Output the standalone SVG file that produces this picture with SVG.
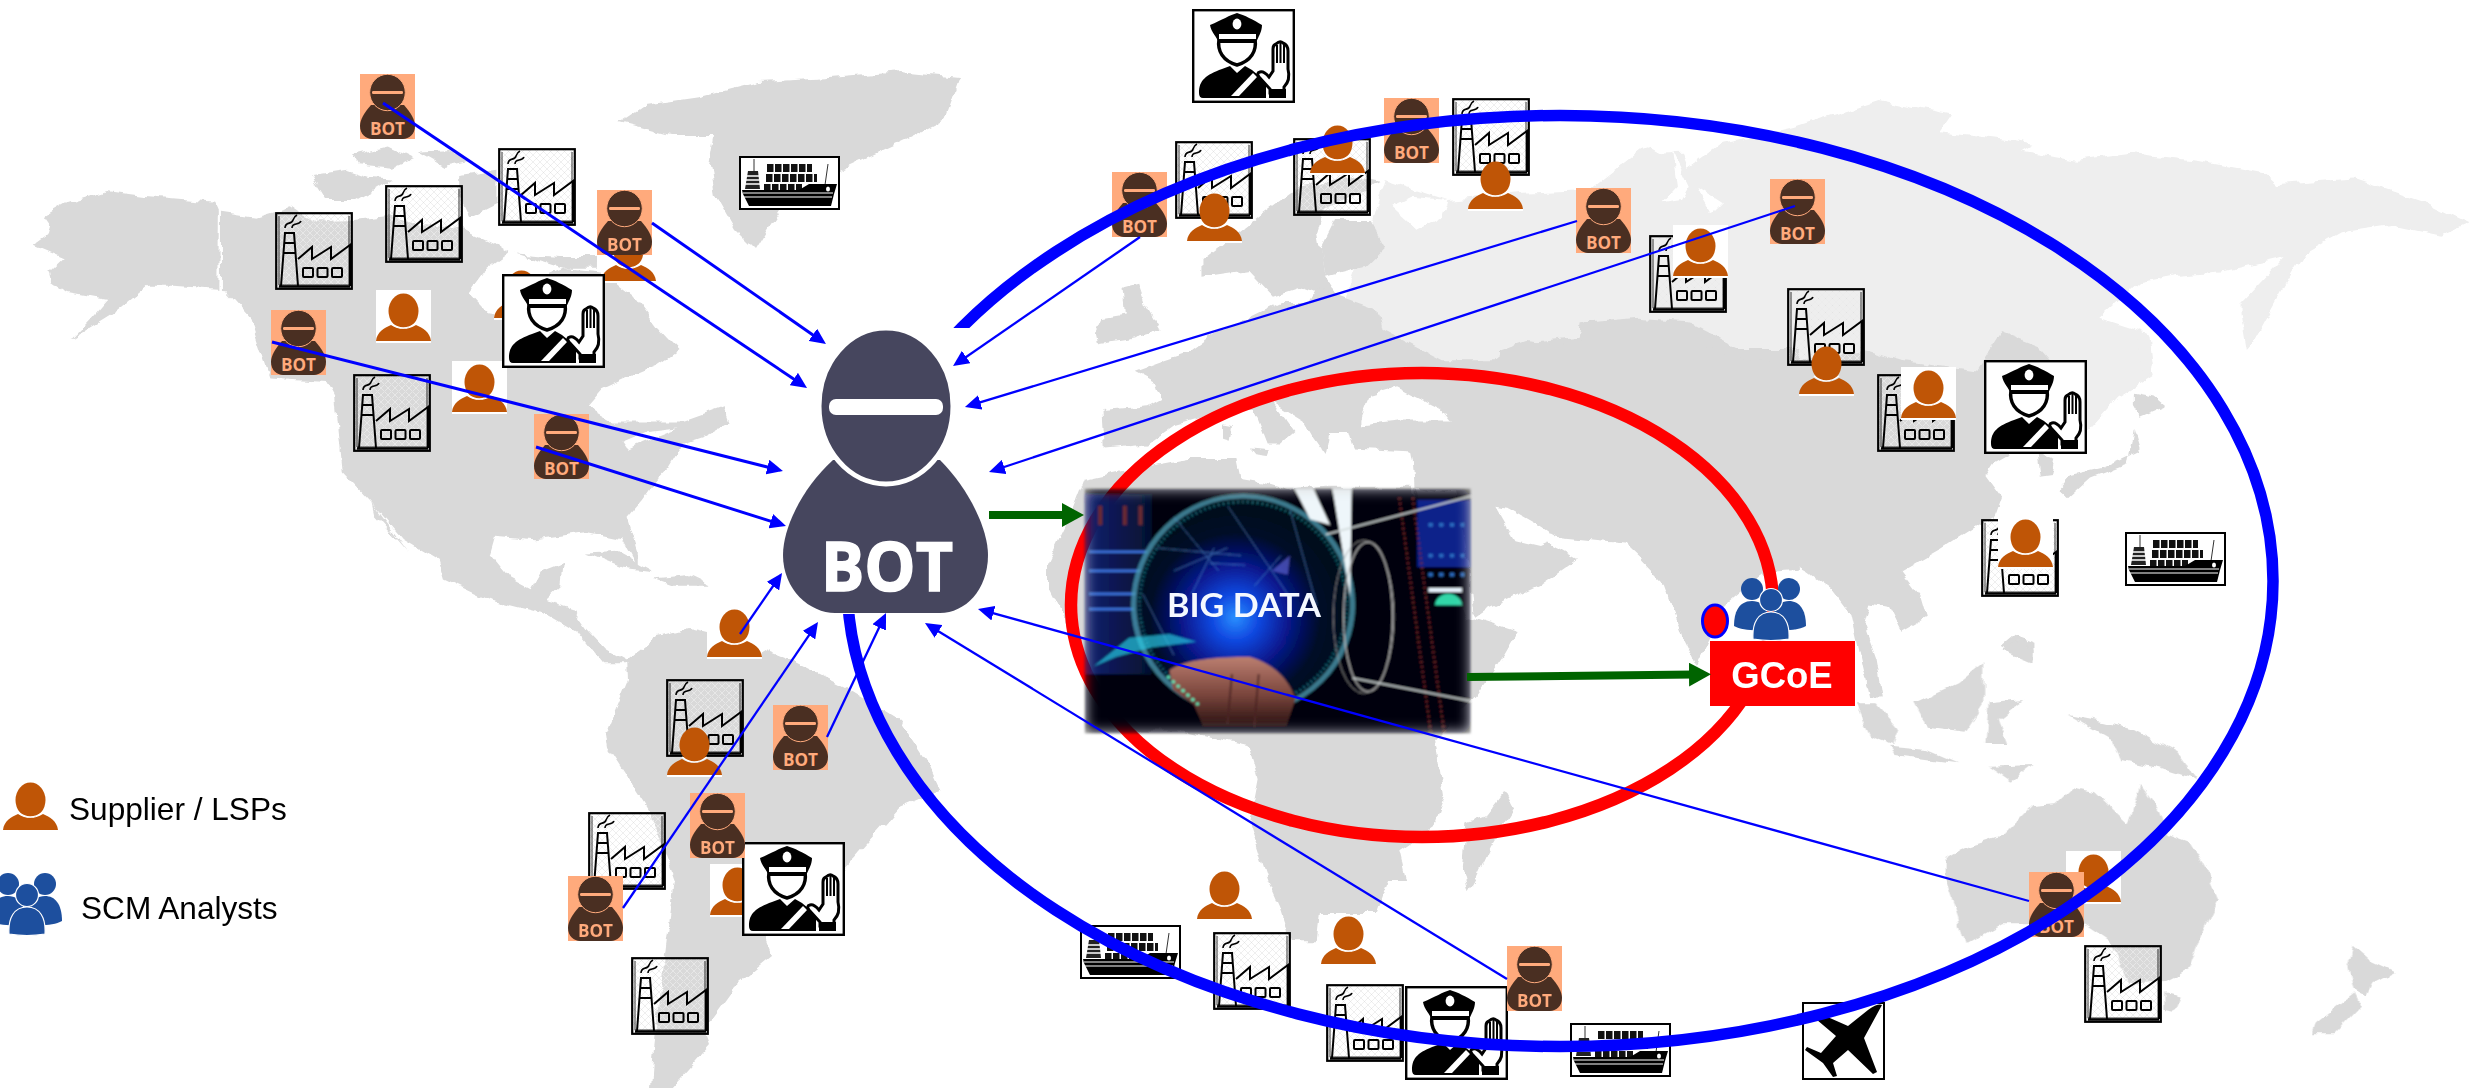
<svg xmlns="http://www.w3.org/2000/svg" width="2484" height="1088" viewBox="0 0 2484 1088">
<style>
.land{fill:#d9d9d9}.light{fill:#eeeeee}.sea{fill:#fff}
.thin{stroke:#0000ff;stroke-width:2.3;fill:none;marker-end:url(#ah)}
.thick{stroke:#0000ff;stroke-width:3;fill:none;marker-end:url(#ah)}
.green{stroke:#006400;stroke-width:8;fill:none;marker-end:url(#gh)}
.lbl{font-family:"Liberation Sans",Arial,sans-serif;font-size:31.6px;fill:#000}
.botsm{font-family:"Open Sans","Noto Sans",sans-serif;font-weight:700;font-size:17px;fill:#ffaa7c}
</style>
<defs>
<marker id="ah" markerUnits="userSpaceOnUse" markerWidth="16" markerHeight="15" refX="8" refY="7.5" orient="auto"><path d="M0,0L16,7.5L0,15Z" fill="#0000ff"/></marker>
<marker id="gh" markerUnits="userSpaceOnUse" markerWidth="22" markerHeight="24" refX="5" refY="12" orient="auto"><path d="M0,0L22,12L0,24Z" fill="#006400"/></marker>
<pattern id="hatch" width="7" height="7" patternUnits="userSpaceOnUse"><path d="M0,0L7,7M7,0L0,7" stroke="#fff" stroke-width=".7"/><path d="M0,0L7,7M7,0L0,7" stroke="#c8c8c8" stroke-width=".3"/></pattern>
<radialGradient id="glow" cx=".47" cy=".56" r=".55"><stop offset="0" stop-color="#2a90ff"/><stop offset=".2" stop-color="#1048e0"/><stop offset=".45" stop-color="#07188c"/><stop offset=".72" stop-color="#030828"/><stop offset="1" stop-color="#030818"/></radialGradient>
<linearGradient id="leftp" x1="0" x2="1"><stop offset="0" stop-color="#0b1f70"/><stop offset="1" stop-color="#06102f"/></linearGradient>
<linearGradient id="handg" x1="0" x2="0" y1="0" y2="1"><stop offset="0" stop-color="#bb7f70"/><stop offset=".55" stop-color="#7a453c"/><stop offset="1" stop-color="#2a1212"/></linearGradient>
<filter id="feather" x="-6%" y="-8%" width="112%" height="116%"><feGaussianBlur in="SourceGraphic" stdDeviation="1.1" result="s"/><feGaussianBlur in="SourceAlpha" stdDeviation="7" result="b"/><feComposite in="s" in2="b" operator="in"/></filter>
<filter id="rough" filterUnits="userSpaceOnUse" x="0" y="0" width="2484" height="1088"><feTurbulence type="fractalNoise" baseFrequency=".06" numOctaves="3" seed="7" result="n"/><feDisplacementMap in="SourceGraphic" in2="n" scale="9" xChannelSelector="R" yChannelSelector="G"/></filter>
<symbol id="factory" viewBox="0 0 78 78" width="78" height="78">
<rect x="1.2" y="1.2" width="75.6" height="75.6" fill="url(#hatch)" stroke="#000" stroke-width="2.2"/>
<path d="M4,4V73H74V4" fill="none" stroke="#000" stroke-width=".8"/>
<path d="M4,74.5H75" stroke="#000" stroke-width="2.5"/>
<path d="M6,74L10,21H19L23,74M9,31H20M8,41H21" fill="none" stroke="#000" stroke-width="2"/>
<path d="M10,16C10,9 17,13 18,8C19,5 20,4 22,3M17,16C17,10 24,14 26,9" fill="none" stroke="#000" stroke-width="1.6"/>
<path d="M23,47L37,35V47L56,35V47L75,33V74" fill="none" stroke="#000" stroke-width="2"/>
<rect x="28" y="56" width="10" height="9" rx="1" fill="none" stroke="#000" stroke-width="2"/><rect x="42.5" y="56" width="10" height="9" rx="1" fill="none" stroke="#000" stroke-width="2"/><rect x="57" y="56" width="10" height="9" rx="1" fill="none" stroke="#000" stroke-width="2"/>
</symbol>
<symbol id="person" viewBox="0 0 55 53" width="55" height="53">
<path d="M0,51C1,42 8,38 15,35Q27,43 40,35C47,38 54,42 55,51Z" fill="#bf5506"/>
<ellipse cx="27.5" cy="21" rx="15" ry="17.5" fill="#bf5506"/>
<path d="M15,33Q27,43 40,33" fill="none" stroke="#fff" stroke-width="1.4"/>
<rect y="51" width="55" height="2" fill="#fff"/>
</symbol>
<symbol id="person-tile" viewBox="0 0 55 53" width="55" height="53">
<rect width="55" height="53" fill="#fff"/><use href="#person"/>
</symbol>
<symbol id="bot" viewBox="0 0 55 65" width="55" height="65">
<rect width="55" height="65" fill="#ffaa7c"/>
<path d="M11,31C4,39 0,46 0,52C0,60 6,65 12,65H43C49,65 55,60 55,52C55,46 51,39 44,31Z" fill="#4a2f22"/>
<ellipse cx="27.5" cy="18.5" rx="17.8" ry="18.2" fill="#4a2f22" stroke="#ffaa7c" stroke-width="1"/>
<rect x="12" y="17" width="31" height="3" rx="1.2" fill="#ffaa7c"/>
<text class="botsm" x="27.5" y="61" text-anchor="middle" textLength="35" lengthAdjust="spacingAndGlyphs">BOT</text>
</symbol>
<symbol id="cop" viewBox="0 0 103 94" width="103" height="94">
<rect x="1.2" y="1.2" width="100.6" height="91.6" fill="#fff" stroke="#000" stroke-width="2.4"/>
<path d="M7,84C7,71 14,66 30,60L38,57L45,64L53,57L60,61L66,66L74,74V89H11Q7,89 7,84Z"/>
<path d="M39,87L61,64L65,68L47,87Z" fill="#fff"/>
<path d="M27,30C25,42 31,52 45,56C59,52 65,42 63,30Z" fill="#fff" stroke="#000" stroke-width="3.4"/>
<path d="M18,16C30,11 38,6 45,4C52,6 62,11 70,16C70,23 66,28 64,34H27C25,28 19,23 18,16Z"/>
<rect x="27" y="25" width="37" height="5" fill="#fff"/><ellipse cx="45" cy="15" rx="4.4" ry="5.4" fill="#fff"/>
<path d="M81,62V40Q81,36 84,35Q88,31 91,34Q96,36 96,42V60C98,68 96,74 92,78V84H78V80L67,68Q64,64 68,63Q72,62 77,68Z" fill="#fff" stroke="#000" stroke-width="3"/>
<path d="M85,36V54M88.500,34V54M92,36V54" stroke="#000" stroke-width="2"/>
<rect x="77" y="80" width="17" height="9"/>
</symbol>
<symbol id="ship" viewBox="0 0 101 54" width="101" height="54">
<rect x="1" y="1" width="99" height="52" fill="#fff" stroke="#000" stroke-width="2"/>
<path d="M28,12H73" stroke="#111" stroke-width="8" stroke-dasharray="6.500 1.500"/>
<path d="M27,22H78" stroke="#111" stroke-width="8" stroke-dasharray="6.500 1.500"/>
<path d="M25,32H63" stroke="#111" stroke-width="8" stroke-dasharray="6.500 1.500"/>
<path d="M15,3V15M89,8L86,29" stroke="#333" stroke-width="1"/>
<path d="M9,15H19L21,33H6Z" fill="#222"/><path d="M7,20H20M7,24H20M6,28H21" stroke="#fff" stroke-width="1.600"/>
<path d="M3,34H60L70,28H98L95,38L92,50H10L4,38Z"/>
<path d="M4,37H94M5,41H93" stroke="#fff" stroke-width="1.200"/><ellipse cx="89" cy="33" rx="2" ry="2.500" fill="#fff"/>
</symbol>
<symbol id="plane" viewBox="0 0 83 78" width="83" height="78">
<rect x="1" y="1" width="81" height="76" fill="#fff" stroke="#000" stroke-width="2"/>
<path d="M80,3L62,36L75,70L71,72L46,48L31,61L35,74L31,75L21,61L3,48L5,45L19,51L34,34L8,12L12,9L46,24L66,8Q76,1 80,3Z"/>
</symbol>
<symbol id="analysts" viewBox="0 0 74 64" width="74" height="64">
<g fill="#1d4f9e">
<circle cx="19" cy="12" r="11"/><path d="M1,49C1,32 8,24 19,24C26,24 32,28 34,34V53C20,54 8,53 1,49Z"/>
<circle cx="56" cy="12" r="11"/><path d="M73,49C73,32 66,24 56,24C49,24 43,28 41,34V53C54,54 66,53 73,49Z"/>
<g stroke="#fff" stroke-width="1.200"><circle cx="38" cy="23" r="11.500"/><path d="M20,62C19,46 25,35 38,35C51,35 57,46 56,62Q38,65 20,62Z"/></g>
</g>
</symbol>
</defs>

<g id="world-map" filter="url(#rough)">
<g transform="translate(0,100) scale(.5102,.3571)">
<path class="land" d="M68,405L95,378L100,350L88,325L130,290L210,255L280,268L420,285L430,315L500,330L570,300L590,320L620,340L700,335L760,325L830,350L910,360L970,400L1000,430L950,480L920,540L960,600L1000,610L1020,560L1030,510L1100,470L1180,480L1240,545L1290,640L1330,700L1290,740L1240,770L1180,810L1150,860L1200,900L1290,900L1340,900L1420,860L1430,900L1380,940L1340,960L1310,1030L1290,1060L1260,1120L1230,1170L1250,1260L1250,1310L1220,1230L1150,1210L1050,1230L970,1220L960,1270L1000,1340L1040,1370L1060,1320L1105,1295L1100,1360L1070,1400L1120,1420L1150,1480L1190,1540L1240,1580L1180,1580L1130,1490L1070,1440L960,1400L870,1340L860,1290L790,1230L730,1130L670,1040L655,830L640,790L530,780L490,610L440,530L340,520L290,520L230,590L140,670L180,610L210,560L130,540L100,510L95,480L125,440Z"/>
<path class="land" d="M730,1130L800,1265L760,1200L735,1160Z"/>
<path class="land" d="M610,210L680,195L720,215L770,220L700,280L640,280ZM690,155L760,130L810,165L770,190L700,180ZM820,145L880,140L920,170L870,185ZM900,210L975,195L975,290L920,330L900,270ZM1010,430L1100,440L1170,440L1170,470L1100,470Z"/>
<path class="land" d="M1150,1270L1210,1265L1280,1320L1220,1310ZM1280,1340L1350,1330L1395,1360L1320,1360Z"/>
<path class="sea" d="M429,285L433,285V530L428,530Z"/>
<path class="sea" d="M1170,870L1190,810L1230,780L1240,830L1200,860ZM1220,960L1270,930L1330,920L1260,960L1230,980Z"/>
</g>
<path class="land" d="M620,122L645,105L700,97L760,82L830,78L900,72L960,78L945,120L905,140L850,165L790,195L770,225L755,250L735,230L715,195L710,165L715,135L670,135Z"/>
<path class="land" d="M627,660L658,636L689,628L740,640L790,660L850,690L900,720L926,760L940,790L900,807L844,870L763,933L772,957L735,987L706,1027L712,1043L672,1088H651L654,1047L666,947L675,880L649,810L608,747L606,733L628,680Z"/>
<g transform="translate(1500,100) scale(.6276,.3571)">
<path class="light" d="M-182,224L-84,280L38,260L143,252L225,140L240,130L260,150L290,148L300,190L355,120L468,76L605,0L660,20L720,40L700,90L820,115L850,125L830,145L920,170L1010,150L1110,170L1220,205L1240,235L1360,220L1480,290L1545,345L1500,380L1420,350L1340,370L1280,430L1250,520L1200,680L1190,700L1180,600L1180,570L1250,440L1150,480L1080,490L1020,510L955,610L1025,650L1040,770L985,830L935,930L800,900L0,900L-193,650L-247,560L-204,350Z"/>
<path class="light" d="M1020,650L1035,660L1040,740L1030,780L1018,720Z"/>
</g>
<g transform="translate(1080,0) scale(.5102,.3333)">
<path class="sea" d="M610,620L650,590L720,600L710,650L660,690Z"/>
<path class="sea" d="M1160,450L1195,560L1180,600L1140,610L1170,560ZM1210,560L1260,610L1240,640L1220,590Z"/>
<path class="land" d="M240,780L350,650L430,560L540,530L590,545L560,570L480,620L465,700L480,830L510,900L440,860L380,890L330,810L240,830Z"/>
<path class="land" d="M470,750L500,660L570,660L600,740L560,800L480,830Z"/>
</g>
<g transform="translate(1040,280) scale(.4464,.3827)">
<path class="land" d="M130,165L125,140L140,100L190,90L185,20L220,10L235,60L270,130L210,150Z"/>
<path class="land" d="M145,440L140,340L240,330L270,310L258,270L210,240L280,210L330,190L400,130L470,100L540,60L600,60L620,20L760,80L770,130L900,210L1020,210L1060,170L1210,150L1220,110L1450,110L1568,180L1700,180L1700,760L1579,770L1539,844L1500,900L1472,980L1440,930L1400,800L1350,740L1340,700L1310,680L1150,650L1130,680L1205,730L1130,790L1000,860L975,880L900,700L840,560L835,470L830,440L940,420L950,430L870,450L700,440L690,400L650,400L640,460L610,410L590,370L520,320L570,400L540,430L510,430L480,340L420,340L300,380L240,430Z"/>
<path class="land" d="M100,520L260,480L330,465L440,465L450,520L500,530L560,550L640,540L830,540L870,640L960,880L1070,920L1040,980L975,1090L885,1200L905,1350L880,1430L805,1490L820,1568L782,1568L755,1654L627,1654L620,1725L562,1725L538,1638L511,1568L470,1420L490,1300L470,1220L320,1180L180,1180L18,800L18,740L60,640Z"/>
<path class="land" d="M1040,1340L1060,1385L1010,1480L975,1568L960,1600L945,1530L955,1420L1000,1400Z"/>
<path class="land" d="M410,380L430,385L425,420L410,415ZM470,440L515,445L510,460L480,455Z"/>
<path class="sea" d="M720,360L740,300L800,280L900,340L920,370L800,370L720,380Z"/>
<path class="sea" d="M1040,440L1040,400L1090,350L1120,390L1110,440L1080,465Z"/>
<path class="sea" d="M1020,590L1065,600L1140,660L1150,680L1120,695L1065,680Z"/>
<path class="sea" d="M840,540L930,555L962,760L972,885L955,890L900,700Z"/>
</g>
<g transform="translate(1500,100) scale(.6276,.3571)">
<path class="land" d="M0,700L40,675L125,690L130,625L220,610L305,620L330,690L370,720L450,740L580,700L640,730L760,760L800,650L860,690L880,730L935,800L920,880L860,940L790,1010L775,1050L800,1110L790,1160L700,1260L640,1320L670,1390L680,1450L640,1490L620,1420L590,1410L580,1470L600,1568L610,1673L590,1673L560,1440L530,1370L490,1320L457,1288L414,1330L362,1408L314,1585L290,1500L260,1340L200,1240L90,1220L0,1130Z"/>
<path class="land" d="M1010,820L1040,830L1060,860L1020,890L1010,860ZM1010,920L1020,980L960,1030L910,1050L890,1090L905,1115L940,1060L1000,1020ZM855,990L885,1010L880,1050L860,1055ZM820,1500L850,1520L850,1568L800,1530Z"/>
</g>
<g transform="translate(1500,640) scale(.6276,.3333)">
<path class="land" d="M565,190L590,290L625,315L635,265L600,190ZM620,320L680,330L730,370L690,360L630,345ZM660,190L730,130L770,70L770,190L740,275L680,260ZM780,190L835,180L795,240L810,315L775,315ZM905,225L960,245L1010,270L1080,340L1110,420L1050,385L990,360L975,300ZM780,380L850,375L815,425ZM800,30L830,0L850,30L850,70L825,50Z"/>
<path class="land" d="M710,660L740,625L800,590L850,495L885,490L910,445L950,460L1000,550L1020,435L1050,510L1065,585L1100,610L1125,690L1145,780L1120,880L1100,980L1060,1020L1000,1030L970,900L930,850L800,850L740,915L730,830L710,720Z"/>
<path class="land" d="M1060,1060L1085,1070L1075,1115L1060,1110Z"/>
<path class="land" d="M1360,920L1385,960L1425,995L1390,1030L1380,1070L1360,1050L1350,980ZM1360,1060L1370,1100L1330,1180L1295,1180L1300,1150Z"/>
</g>
</g>

<g id="factories">
<g id="factory-1"><use href="#factory" x="275" y="212"/></g>
<g id="factory-2"><use href="#factory" x="385" y="185"/></g>
<g id="factory-3"><use href="#factory" x="498" y="148"/></g>
<g id="factory-4"><use href="#factory" x="353" y="374"/></g>
<g id="factory-5"><use href="#factory" x="1175" y="141"/></g>
<g id="factory-6"><use href="#factory" x="1293" y="138"/></g>
<g id="factory-7"><use href="#factory" x="1452" y="98"/></g>
<g id="factory-8"><use href="#factory" x="1649" y="235"/></g>
<g id="factory-9"><use href="#factory" x="1787" y="288"/></g>
<g id="factory-10"><use href="#factory" x="1877" y="374"/></g>
<g id="factory-11"><use href="#factory" x="1981" y="519"/></g>
<g id="factory-12"><use href="#factory" x="2084" y="945"/></g>
<g id="factory-13"><use href="#factory" x="666" y="679"/></g>
<g id="factory-14"><use href="#factory" x="588" y="812"/></g>
<g id="factory-15"><use href="#factory" x="631" y="957"/></g>
<g id="factory-16"><use href="#factory" x="1213" y="932"/></g>
<g id="factory-17"><use href="#factory" x="1326" y="984"/></g>
</g>

<g id="persons">
<g id="person-1"><use href="#person-tile" x="376" y="290"/></g>
<g id="person-2"><use href="#person-tile" x="452" y="361"/></g>
<g id="person-3"><use href="#person-tile" x="601" y="230"/></g>
<g id="person-4"><use href="#person-tile" x="494" y="267"/></g>
<g id="person-5"><use href="#person-tile" x="707" y="606"/></g>
<g id="person-6"><use href="#person" x="667" y="724"/></g>
<g id="person-7"><use href="#person-tile" x="710" y="864"/></g>
<g id="person-8"><use href="#person" x="1187" y="190"/></g>
<g id="person-9"><use href="#person" x="1310" y="122"/></g>
<g id="person-10"><use href="#person" x="1468" y="158"/></g>
<g id="person-11"><use href="#person-tile" x="1673" y="225"/></g>
<g id="person-12"><use href="#person" x="1799" y="343"/></g>
<g id="person-13"><use href="#person-tile" x="1901" y="367"/></g>
<g id="person-14"><use href="#person-tile" x="1998" y="516"/></g>
<g id="person-15"><use href="#person" x="1197" y="868"/></g>
<g id="person-16"><use href="#person" x="1321" y="913"/></g>
<g id="person-17"><use href="#person-tile" x="2066" y="851"/></g>
</g>

<g id="cops">
<g id="cop-1"><use href="#cop" x="1192" y="9"/></g>
<g id="cop-2"><use href="#cop" x="502" y="274"/></g>
<g id="cop-3"><use href="#cop" x="1984" y="360"/></g>
<g id="cop-4"><use href="#cop" x="742" y="842"/></g>
<g id="cop-5"><use href="#cop" x="1405" y="986"/></g>
</g>

<g id="vehicles">
<g id="ship-1"><use href="#ship" x="739" y="156"/></g>
<g id="ship-2"><use href="#ship" x="2125" y="532"/></g>
<g id="ship-3"><use href="#ship" x="1080" y="925"/></g>
<g id="ship-4"><use href="#ship" x="1570" y="1023"/></g>
<g id="plane-1"><use href="#plane" x="1802" y="1002"/></g>
</g>

<g id="bots">
<g id="bot-1"><use href="#bot" x="360" y="74"/></g>
<g id="bot-2"><use href="#bot" x="597" y="190"/></g>
<g id="bot-3"><use href="#bot" x="271" y="310"/></g>
<g id="bot-4"><use href="#bot" x="534" y="414"/></g>
<g id="bot-5"><use href="#bot" x="773" y="705"/></g>
<g id="bot-6"><use href="#bot" x="690" y="793"/></g>
<g id="bot-7"><use href="#bot" x="568" y="876"/></g>
<g id="bot-8"><use href="#bot" x="1507" y="946"/></g>
<g id="bot-9"><use href="#bot" x="2029" y="872"/></g>
<g id="bot-10"><use href="#bot" x="1112" y="172"/></g>
<g id="bot-11"><use href="#bot" x="1384" y="98"/></g>
<g id="bot-12"><use href="#bot" x="1576" y="188"/></g>
<g id="bot-13"><use href="#bot" x="1770" y="179"/></g>
</g>

<ellipse id="red-ring" cx="1422" cy="605" rx="351" ry="232" fill="none" stroke="#ff0000" stroke-width="12.500"/>
<ellipse id="blue-ring" cx="1560" cy="581" rx="713" ry="465.500" fill="none" stroke="#0000ff" stroke-width="11.500"/>

<g id="big-bot">
<rect x="780" y="328" width="212" height="286" fill="#fff"/>
<path d="M833,460C800,490 783,530 783,555C783,590 810,613 835,613H940C965,613 988,590 988,555C988,530 970,490 940,460Z" fill="#46465e"/>
<ellipse cx="886" cy="406" rx="67" ry="78" fill="#46465e" stroke="#fff" stroke-width="5"/>
<rect x="829" y="399" width="114" height="16" rx="7" fill="#fff"/>
<text x="887" y="591" text-anchor="middle" textLength="132" lengthAdjust="spacingAndGlyphs" font-family="'Open Sans','Noto Sans',sans-serif" font-weight="700" font-size="68" fill="#fff" stroke="#fff" stroke-width="1.500">BOT</text>
</g>

<g id="big-data">
<g filter="url(#feather)">
<g transform="translate(1040,280) scale(.4464,.3827)">
<rect x="100" y="545" width="865" height="640" fill="#04050c"/>
<rect x="100" y="560" width="150" height="470" fill="url(#leftp)"/>
<rect x="845" y="575" width="120" height="175" fill="#08208a"/>
<path d="M870,810H945" stroke="#e8f4ff" stroke-width="10"/>
<path d="M885,850A28,28 0 0 1 945,850Z" fill="#33d6a8"/>
<path d="M870,640H950M870,720H950M870,770H950" stroke="#2a6ac0" stroke-width="10" stroke-dasharray="10 14"/>
<path d="M805,570L875,1180M835,570L905,1180" stroke="#7a2a2a" stroke-width="6" stroke-dasharray="4 9"/>
<path d="M110,710H240M110,760H230M110,820H220M110,860H210" stroke="#3a70d8" stroke-width="7"/>
<path d="M135,590V640M190,590V640M225,590V640" stroke="#6a2c30" stroke-width="9"/>
<ellipse cx="452" cy="848" rx="240" ry="278" fill="url(#glow)"/>
<ellipse cx="455" cy="848" rx="245" ry="283" fill="none" stroke="#4ea0b8" stroke-width="12" opacity=".75"/>
<ellipse cx="455" cy="848" rx="232" ry="268" fill="none" stroke="#2fd0d8" stroke-width="8" stroke-dasharray="3 8" opacity=".55"/>
<path d="M260,700L450,720M300,620L400,760M420,590L560,830M390,700L340,820M540,720L480,800M560,600L620,850M230,820L300,980M300,760L420,700M380,740L460,745" stroke="#5fa8e8" stroke-width="1.800" opacity=".7"/>
<path d="M520,760L560,720L555,770Z" fill="#5a60d0" opacity=".7"/>
<path d="M120,1010L200,935L290,925L350,945L250,960L170,985Z" fill="#2ac8e0" opacity=".7"/>
<path d="M290,1020C325,990 400,985 470,985C530,1005 560,1050 572,1095L552,1165H365L345,1110L298,1070Z" fill="url(#handg)"/>
<path d="M430,1030L420,1160M490,1030L480,1165" stroke="#4a2424" stroke-width="4"/>
<path d="M285,1035L355,1110" stroke="#5fe8b8" stroke-width="7" stroke-dasharray="8 8"/>
<path d="M570,545H612L650,640L605,625ZM655,545H698L695,830Z" fill="#eef6fa"/>
<ellipse cx="735" cy="880" rx="55" ry="195" fill="none" stroke="#b8b8b8" stroke-width="3"/>
<ellipse cx="725" cy="880" rx="68" ry="200" fill="none" stroke="#9a9a9a" stroke-width="2"/>
<path d="M640,665L965,565M700,1040L965,1100" stroke="#d0d8d8" stroke-width="4"/>
</g>
</g>
<text x="1167" y="617" textLength="154" lengthAdjust="spacingAndGlyphs" font-family="Lato,'Open Sans',sans-serif" font-weight="700" font-size="32" fill="#f4f8ff">BIG DATA</text>
</g>

<g id="gcoe">
<rect x="1710" y="641" width="145" height="65" fill="#ff0000"/>
<text x="1782" y="688" text-anchor="middle" font-family="'Liberation Sans',Arial,sans-serif" font-weight="700" font-size="36.500" fill="#fff">GCoE</text>
</g>
<g id="scm-analysts"><use href="#analysts" x="1733" y="577"/></g>
<g id="marker-dot"><ellipse cx="1715" cy="621" rx="12.500" ry="16" fill="#ff0000" stroke="#0000ff" stroke-width="3"/></g>

<g id="connectors">
<line class="thick" x1="383" y1="103" x2="800.400" y2="383.500"/>
<line class="thick" x1="652" y1="223" x2="819.400" y2="339.400"/>
<line class="thick" x1="272" y1="342" x2="775.200" y2="469"/>
<line class="thick" x1="536" y1="447" x2="778.400" y2="523.600"/>
<line class="thin" x1="740" y1="634" x2="777.500" y2="579.600"/>
<line class="thin" x1="623" y1="908" x2="813.500" y2="628.600"/>
<line class="thin" x1="827" y1="737" x2="882.600" y2="620.200"/>
<line class="thin" x1="1507" y1="979" x2="931.800" y2="627.200"/>
<line class="thin" x1="2029" y1="901" x2="985.700" y2="611.100"/>
<line class="thin" x1="1795" y1="206" x2="996.600" y2="469.500"/>
<line class="thin" x1="1577" y1="221" x2="972.600" y2="404.700"/>
<line class="thin" x1="1140" y1="237" x2="959.600" y2="361.500"/>
<line class="green" x1="989" y1="515" x2="1067" y2="515"/>
<line class="green" x1="1467" y1="677" x2="1694" y2="674.500"/>
</g>

<g id="legend">
<g id="legend-supplier"><use href="#person" x="3" y="779"/><text class="lbl" x="69" y="820">Supplier / LSPs</text></g>
<g id="legend-analysts"><use href="#analysts" x="-11" y="872"/><text class="lbl" x="81" y="919">SCM Analysts</text></g>
</g>
</svg>
